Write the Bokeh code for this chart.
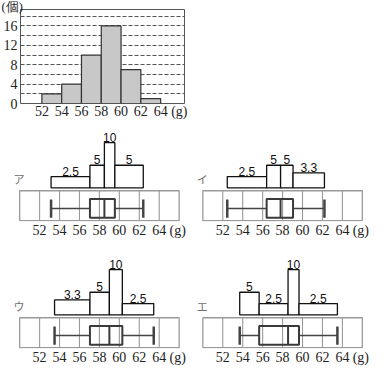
from bokeh.plotting import figure
from bokeh.layouts import column, row
from bokeh.models import Range1d, FixedTicker
from bokeh.embed import file_html
from bokeh.resources import INLINE
from bokeh.core.properties import value

# ---------------- data ----------------
hist_edges = [52, 54, 56, 58, 60, 62, 64]
hist_counts = [2, 4, 10, 16, 7, 1]
hist_yticks = [0, 4, 8, 12, 16]
hist_grid_ticks = [2, 4, 6, 8, 10, 12, 14, 16, 18]
x_ticks = [52, 54, 56, 58, 60, 62, 64]
x_unit = "(g)"
y_unit = "(個)"

panel_names = ["ア", "イ", "ウ", "エ"]
# whisker-low, Q1, median, Q3, whisker-high
stats_a = [53.15, 57.05, 58.5, 59.55, 62.4]
dens_a = [2.5, 5, 10, 5]
stats_i = [52.45, 56.4, 57.8, 59.05, 62.2]
dens_i = [2.5, 5, 5, 3.3]
stats_u = [53.5, 57.05, 59.0, 60.3, 63.45]
dens_u = [3.3, 5, 10, 2.5]
stats_e = [53.7, 55.65, 58.55, 59.65, 63.5]
dens_e = [5, 2.5, 10, 2.5]
cell_edges = [50, 52, 54, 56, 58, 60, 62, 64, 66]

# ---------------- layout helpers ----------------
SC = 369 / 385


def S(v):
    return int(round(v * SC))


SERIF = "Liberation Serif"
SANS = "Liberation Sans"
CJK = "Noto Sans CJK JP"
TICK_SIZE = "14px"

# ---------------- top histogram ----------------
hx0, hx1, hy1 = 49.84, 66.41, 19.4
ph = figure(width=S(195), height=S(126),
            x_range=Range1d(hx0, hx1), y_range=Range1d(0, hy1),
            output_backend="svg", toolbar_location=None,
            min_border_left=S(20), min_border_right=S(3),
            min_border_top=S(9.3), min_border_bottom=S(16),
            outline_line_color="#555555", outline_line_width=1)
ph.quad(left=hist_edges[:-1], right=hist_edges[1:], bottom=0, top=hist_counts,
        fill_color="#c8c8c8", line_color="#333333", line_width=1.2)
ph.xgrid.visible = False
ph.ygrid.ticker = FixedTicker(ticks=hist_grid_ticks)
ph.ygrid.grid_line_color = "#555555"
ph.ygrid.grid_line_dash = "4 2"
ph.ygrid.grid_line_width = 1

ph.title.text = y_unit
ph.title.align = "left"
ph.title.offset = -S(20)
ph.title.standoff = -8
ph.title.text_font = SERIF
ph.title.text_font_size = "12.5px"
ph.title.text_font_style = "normal"
ph.title.text_color = "#222222"

g_pos_h = 66.3
ph.xaxis.ticker = FixedTicker(ticks=x_ticks + [g_pos_h])
ph.xaxis.major_label_overrides = {g_pos_h: x_unit}
ph.yaxis.ticker = FixedTicker(ticks=hist_yticks)
for ax in (ph.xaxis, ph.yaxis):
    ax.axis_line_color = None
    ax.major_tick_line_color = None
    ax.minor_tick_line_color = None
    ax.major_tick_out = 0
    ax.major_label_text_font = SERIF
    ax.major_label_text_font_size = TICK_SIZE
    ax.major_label_text_color = "#222222"
ph.xaxis.major_label_standoff = 0
ph.yaxis.major_label_standoff = 3

# ---------------- box-plot panels ----------------
K = 4.7              # reference px per density unit
PXG = 10.4 * SC      # screen px per gram
g_pos_p = 65.85
W = S(195)


def panel(name, stats, dens, frame_off, height, bottom):
    x0 = cell_edges[0] - frame_off * SC / PXG
    x1 = x0 + W / PXG
    p = figure(width=W, height=S(height),
               x_range=Range1d(x0, x1), y_range=Range1d(-35 / K, 69 / K),
               y_axis_location=None,
               output_backend="svg", toolbar_location=None,
               min_border_left=0, min_border_right=0,
               min_border_top=0, min_border_bottom=S(bottom),
               outline_line_color=None)
    p.xgrid.visible = False
    p.ygrid.visible = False

    ft, fb = -3 / K, -34 / K
    # frame with cells
    p.quad(left=cell_edges[0], right=cell_edges[-1], bottom=fb, top=ft,
           fill_color=None, line_color="#9a9a9a", line_width=1.3)
    inner = cell_edges[1:-1]
    p.segment(x0=inner, x1=inner, y0=[fb] * len(inner), y1=[ft] * len(inner),
              line_color="#9a9a9a", line_width=1.1)

    # box plot
    bt, bb, wy = -11.5 / K, -31 / K, -21.5 / K
    ct, cb = -12 / K, -31 / K
    lo, q1, med, q3, hi = stats
    p.segment(x0=[lo, q3], x1=[q1, hi], y0=[wy, wy], y1=[wy, wy],
              line_color="#444444", line_width=1.6)
    p.segment(x0=[lo, hi], x1=[lo, hi], y0=[ct, ct], y1=[cb, cb],
              line_color="#444444", line_width=2.5)
    p.quad(left=q1, right=q3, bottom=bb, top=bt, fill_color=None,
           line_color="#3a3a3a", line_width=2)
    p.segment(x0=[med], x1=[med], y0=[bb], y1=[bt],
              line_color="#3a3a3a", line_width=2)

    # histogram of quartile intervals
    p.quad(left=stats[:-1], right=stats[1:], bottom=0, top=dens,
           fill_color="white", line_color="#111111", line_width=1.3)
    centers = [(a + b) / 2 for a, b in zip(stats[:-1], stats[1:])]
    p.text(x=centers, y=dens, text=[f"{d:g}" for d in dens],
           text_font=value(SANS), text_font_size="12px", text_color="#111111",
           text_align="center", text_baseline="bottom", y_offset=-1)

    # panel name
    p.text(x=[cell_edges[0] - 0.07], y=[9 / K], text=[name],
           text_font=value(CJK), text_font_size="11px", text_color="#6e6e6e",
           text_align="center", text_baseline="middle")

    p.xaxis.ticker = FixedTicker(ticks=x_ticks + [g_pos_p])
    p.xaxis.major_label_overrides = {g_pos_p: x_unit}
    p.xaxis.axis_line_color = None
    p.xaxis.major_tick_line_color = None
    p.xaxis.minor_tick_line_color = None
    p.xaxis.major_tick_out = 0
    p.xaxis.major_label_standoff = 1
    p.xaxis.major_label_text_font = SERIF
    p.xaxis.major_label_text_font_size = TICK_SIZE
    p.xaxis.major_label_text_color = "#222222"
    return p


pa = panel(panel_names[0], stats_a, dens_a, 20, 132, 28)
pi = panel(panel_names[1], stats_i, dens_i, 16, 132, 28)
pu = panel(panel_names[2], stats_u, dens_u, 20, 127, 23)
pe = panel(panel_names[3], stats_e, dens_e, 16, 127, 23)

layout = column(ph, row(pa, pi), row(pu, pe))
open("out.html", "w").write(file_html(layout, INLINE))
